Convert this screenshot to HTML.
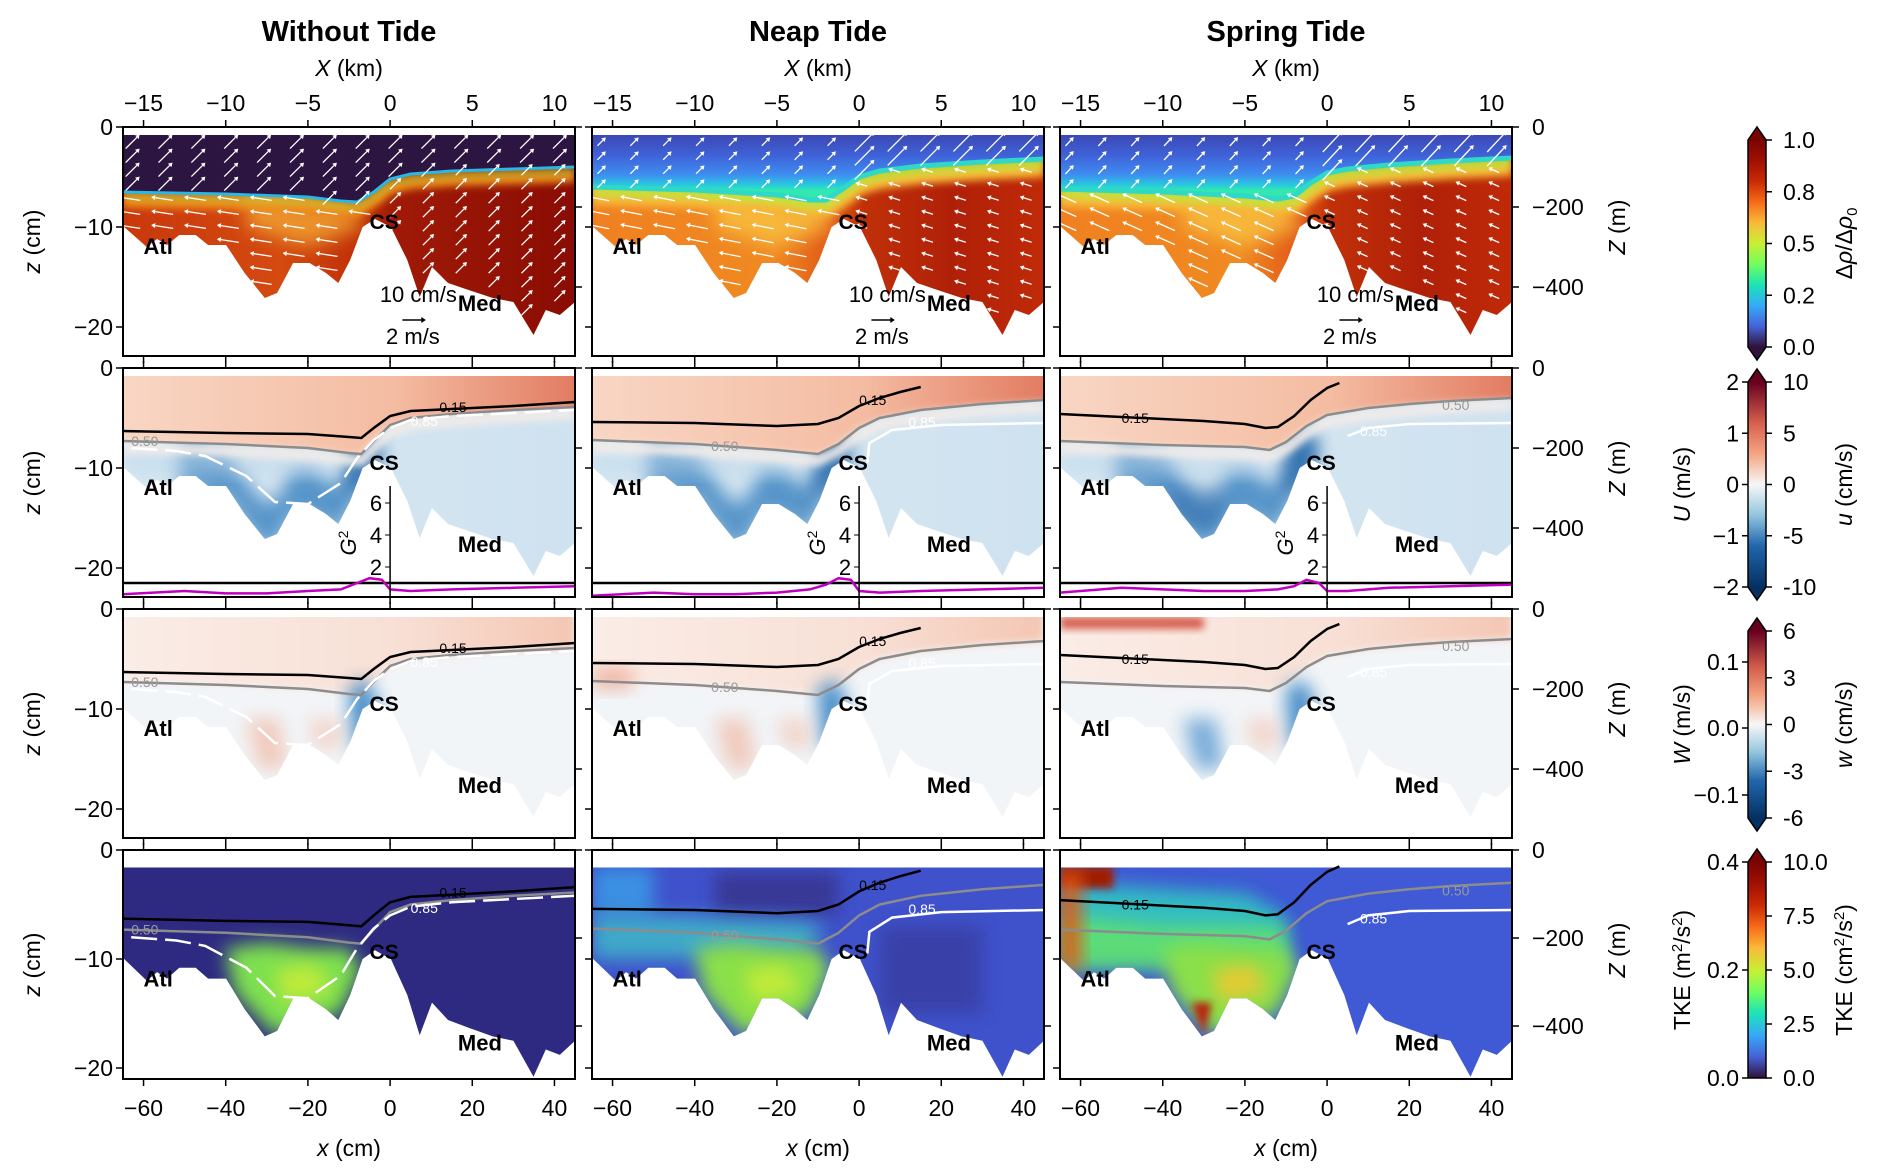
<!DOCTYPE html>
<html><head><meta charset="utf-8">
<style>
html,body{margin:0;padding:0;background:#fff;}
svg{display:block;font-family:"Liberation Sans","DejaVu Sans",sans-serif;}
</style></head>
<body>
<svg id="fig" width="1892" height="1175" viewBox="0 0 1892 1175" xmlns="http://www.w3.org/2000/svg">
<defs>
<linearGradient id="turbo" x1="0" y1="1" x2="0" y2="0">
<stop offset="0" stop-color="#30123b"/><stop offset="0.1" stop-color="#4662d7"/><stop offset="0.2" stop-color="#36aaf9"/><stop offset="0.3" stop-color="#1ae4b6"/><stop offset="0.4" stop-color="#72fe5e"/><stop offset="0.5" stop-color="#c8ef34"/><stop offset="0.6" stop-color="#faba39"/><stop offset="0.7" stop-color="#f66b19"/><stop offset="0.8" stop-color="#ca2a04"/><stop offset="0.9" stop-color="#a01001"/><stop offset="1" stop-color="#7a0403"/></linearGradient>
<linearGradient id="rdbu" x1="0" y1="1" x2="0" y2="0">
<stop offset="0" stop-color="#053061"/><stop offset="0.2" stop-color="#2166ac"/><stop offset="0.35" stop-color="#92c5de"/><stop offset="0.5" stop-color="#f7f7f7"/><stop offset="0.65" stop-color="#f4a582"/><stop offset="0.8" stop-color="#d6604d"/><stop offset="1" stop-color="#67001f"/></linearGradient>
<filter id="blur" x="-50%" y="-50%" width="200%" height="200%"><feGaussianBlur stdDeviation="9"/></filter>
<filter id="blur2" x="-50%" y="-50%" width="200%" height="200%"><feGaussianBlur stdDeviation="4"/></filter>
</defs>
</svg>
<script>
// ---------- data ----------
const columns = ["Without Tide", "Neap Tide", "Spring Tide"];
const bathX = [-65,-59.2,-56.7,-54.3,-51.3,-47.3,-44.3,-39.9,-35.4,-30.5,-27.5,-23.6,-19.6,-15.6,-12.6,-9.7,-6.7,-3.7,0.2,4.2,7.2,10.2,14.1,19.1,25,30,34.9,37.9,41.3,45];
const bathZ = [-9.9,-12,-11.2,-11.8,-10.8,-10.8,-11.8,-11.8,-14.6,-17.1,-16.6,-13.6,-13.6,-14.6,-15.6,-13.3,-10,-9.2,-10,-13.3,-17,-14,-15.6,-16.3,-17.1,-17.5,-20.8,-18.3,-18.8,-17.5];
const ifaceX = [-65,-40,-20,-12,-8,-4,0,5,15,30,45];
const ifaceZ = [
 [-6.5,-6.7,-7.0,-7.4,-7.5,-6.5,-5.2,-4.7,-4.4,-4.2,-4.0],
 [-6.0,-6.3,-6.8,-7.3,-7.3,-6.2,-5.0,-4.4,-3.9,-3.5,-3.2],
 [-6.2,-6.5,-6.9,-7.2,-6.9,-5.6,-4.6,-4.2,-3.8,-3.4,-3.1]];
const c15X = [[-65,-40,-20,-10,-7,-4,0,5,15,30,45],[-65,-40,-20,-10,-5,0,5,10,15],[-65,-50,-40,-30,-20,-15,-12,-8,-4,0,3]];
const c15Z = [[-6.3,-6.5,-6.6,-6.9,-7.0,-6.0,-4.8,-4.3,-4.1,-3.8,-3.4],[-5.4,-5.5,-5.8,-5.6,-5.0,-3.8,-3.0,-2.4,-1.9],[-4.6,-4.9,-5.1,-5.3,-5.6,-6.0,-5.9,-4.8,-3.2,-2.0,-1.5]];
const c50X = [[-65,-40,-20,-10,-7,-4,0,5,15,30,45],[-65,-40,-20,-10,-5,0,5,15,30,45],[-65,-40,-20,-14,-10,-5,0,10,20,30,45]];
const c50Z = [[-7.3,-7.6,-8.0,-8.5,-8.6,-7.3,-5.7,-5.0,-4.6,-4.2,-3.9],[-7.2,-7.6,-8.2,-8.6,-7.6,-6.0,-5.0,-4.2,-3.6,-3.2],[-7.3,-7.7,-7.9,-8.2,-7.4,-5.8,-4.7,-4.0,-3.6,-3.3,-3.0]];
const c85X = [[-63,-52,-45,-35,-28,-20,-12,-8,-4,0,5,15,30,45],[2,2.5,8,20,45],[5,10,20,45]];
const c85Z = [[-8.0,-8.3,-8.8,-10.8,-13.4,-13.6,-11.5,-9.0,-7.2,-6.0,-5.2,-4.8,-4.5,-4.2],[-9.5,-7.5,-6.2,-5.7,-5.5],[-6.8,-6.0,-5.6,-5.5]];
const g2X = [-65,-50,-40,-30,-20,-12,-8,-5,-2,0,5,15,30,45];
const g2Vals = [[0.3,0.5,0.35,0.35,0.5,0.6,1.0,1.3,1.2,0.6,0.5,0.6,0.7,0.8],[0.2,0.4,0.3,0.3,0.4,0.6,0.9,1.3,1.2,0.5,0.4,0.5,0.6,0.7],[0.4,0.7,0.6,0.5,0.5,0.6,0.8,1.2,1.0,0.5,0.5,0.7,0.8,0.9]];
const kmTicks = [-15,-10,-5,0,5,10];
const cmTicks = [-60,-40,-20,0,20,40];
const zTicks = [0,-10,-20];
const ZmTicks = [0,-200,-400];
const cb1Ticks = ["0.0","0.2","0.5","0.8","1.0"];
const cb2L = ["−2","−1","0","1","2"], cb2R = ["-10","-5","0","5","10"];
const cb3L = ["−0.1","0.0","0.1"], cb3R = ["-6","-3","0","3","6"];
const cb4L = ["0.0","0.2","0.4"], cb4R = ["0.0","2.5","5.0","7.5","10.0"];

// ---------- layout ----------
const svg = document.getElementById('fig');
const NS = 'http://www.w3.org/2000/svg';
const colX = [123, 592, 1060], PW = 452, PH = 229;
const rowY = [127, 368, 609, 850];
const zS = [10, 10, 10, 10.9];
const mPerPx = [200/80, 200/80, 200/80, 200/88];
const lab15 = [[12,-3.9],[0,-3.2],[-50,-5.0]];
const lab50 = [[-63,-7.3],[-36,-7.8],[28,-3.7]];
const lab85 = [[5,-5.3],[12,-5.4],[8,-6.3]];
function el(tag, attrs, parent, text){
  const e = document.createElementNS(NS, tag);
  for (const k in attrs) e.setAttribute(k, attrs[k]);
  if (text !== undefined) e.textContent = text;
  (parent || svg).appendChild(e); return e;
}
function X(c, cm){ return colX[c] + (cm + 65) * PW / 110; }
function Z(r, z){ return rowY[r] - z * zS[r]; }
function pts(c, r, xs, zs){ return xs.map((x,i)=>X(c,x).toFixed(1)+','+Z(r,zs[i]).toFixed(1)).join(' '); }
function bathAt(x){ for(let i=0;i<bathX.length-1;i++){ if(x>=bathX[i]&&x<=bathX[i+1]){const t=(x-bathX[i])/(bathX[i+1]-bathX[i]);return bathZ[i]+t*(bathZ[i+1]-bathZ[i]);}} return -20; }
function ifAt(c,x){ for(let i=0;i<ifaceX.length-1;i++){ if(x>=ifaceX[i]&&x<=ifaceX[i+1]){const t=(x-ifaceX[i])/(ifaceX[i+1]-ifaceX[i]);return ifaceZ[c][i]+t*(ifaceZ[c][i+1]-ifaceZ[c][i]);}} return -5; }

let gid = 0;
function lgrad(stops, x1,y1,x2,y2){
  const d = svg.querySelector('defs'); const id='g'+(gid++);
  const g = el('linearGradient',{id:id,x1:x1,y1:y1,x2:x2,y2:y2,gradientUnits:'userSpaceOnUse'},d);
  stops.forEach(s=>el('stop',{offset:s[0],'stop-color':s[1]},g));
  return 'url(#'+id+')';
}
function blob(c,r,xs,zs,fill,parent,f,op){
  el('polygon',{points:pts(c,r,xs,zs),fill:fill,filter:'url(#'+(f||'blur')+')',opacity:op===undefined?1:op},parent);
}
function bathBand(c,r,xa,xb,off){
  const xs = bathX.filter(x=>x>xa&&x<xb);
  const top = xs.map(x=>bathAt(x)+off);
  return {xs: xs.concat(xs.slice().reverse()), zs: top.concat(xs.slice().reverse().map(x=>bathAt(x)-1))};
}

const surf = [-0.8,-0.8,-0.8,-1.6];
function drawPanel(c, r){
  const g = el('g',{});
  
  
  const cid = 'clip'+c+r;
  const cp = el('clipPath',{id:cid}, svg.querySelector('defs'));
  const water = X(c,-65)+','+Z(r,surf[r])+' '+X(c,45)+','+Z(r,surf[r])+' '+pts(c,r,bathX.slice().reverse(),bathZ.slice().reverse());
  el('polygon',{points:water},cp);
  const inner = el('g',{'clip-path':'url(#'+cid+')'},g);
  const x0=X(c,-65), x1=X(c,45), y0=rowY[r], y1=rowY[r]+PH;
  const upperPoly = X(c,-65)+','+Z(r,surf[r])+' '+X(c,45)+','+Z(r,surf[r])+' '+pts(c,r,ifaceX.slice().reverse(),ifaceZ[c].slice().reverse());
  if(r===0){
    const lower = c===0 ? lgrad([[0,'#c8380c'],[0.35,'#d44a10'],[0.52,'#c03008'],[0.6,'#a01a06'],[1,'#8a0c04']],x0,0,x1,0)
                        : lgrad([[0,'#f08020'],[0.4,'#f08a22'],[0.53,'#e05818'],[0.6,'#c03008'],[0.8,'#b02008'],[1,'#c02a08']],x0,0,x1,0);
    el('rect',{x:x0,y:y0,width:PW,height:PH,fill:lower},inner);
    blob(c,r,[-35,-10,-6,-20,-35],[-7,-8,-10,-12,-10],c===0?'#f0a030':'#f8c040',inner,'blur',0.85);
    el('polyline',{points:pts(c,r,ifaceX,ifaceZ[c].map(z=>z-1.0)),fill:'none',stroke:c===0?'#f0901c':'#f8b838','stroke-width':c===0?10:16,filter:'url(#blur2)'},inner);
    el('polyline',{points:pts(c,r,ifaceX,ifaceZ[c].map(z=>z-0.4)),fill:'none',stroke:'#b8f040','stroke-width':c===0?4:8,filter:'url(#blur2)'},inner);
    const upper = c===0 ? '#2d1541' : lgrad([[0,'#3b3ea6'],[0.45,'#3f62d8'],[0.75,'#3f8cf0'],[0.92,'#28c8e0'],[1,'#30e8b0']],0,Z(r,0),0,Z(r,-6.3));
    el('polygon',{points:upperPoly,fill:upper},inner);
    el('polyline',{points:pts(c,r,ifaceX,ifaceZ[c]),fill:'none',stroke:c===0?'#28b8e8':'#30d8c8','stroke-width':c===0?3:5},inner);
    const upV = [[0.7,0.7],[0.7,0.7],[0.7,0.75]][c], atlV=[[-1,0.15],[-1,0.2],[-0.9,0.4]][c], medV=[[0.6,0.6],[-1,0.3],[-0.9,0.4]][c];
    for(let x=-63;x<=44;x+=8){ for(let z=-1.6;z>-21;z-=1.4){
      if(z < bathAt(x)+0.5) continue;
      const up = z>ifAt(c,x);
      const v = up ? upV : (x<-4?atlV:medV);
      let len = up ? (c===0?8:(x<-4?4:12)) : (x<-4?9:(c===0?7:4));
      const ax=X(c,x), az=Z(r,z);
      const ex=ax+v[0]*len, ez=az-v[1]*len;
      const line = el('line',{x1:ax-v[0]*len,y1:az+v[1]*len,x2:ex,y2:ez,stroke:'#fff','stroke-width':1.3},inner);
      
      
      const n=Math.hypot(v[0],v[1]), ux=v[0]/n, uz=-v[1]/n;
      el('polygon',{points:(ex+ux*4)+','+(ez+uz*4)+' '+(ex-uz*2.5)+','+(ez+ux*2.5)+' '+(ex+uz*2.5)+','+(ez-ux*2.5),fill:'#fff'},inner);
    }}
  } else if(r===1){
    el('rect',{x:x0,y:y0,width:PW,height:PH,fill:lgrad([[0,'#d8e8f2'],[1,'#cfe2ef']],x0,0,x1,0)},inner);
    const bb = bathBand(c,r,-52,-2,3.5);
    blob(c,r,bb.xs,bb.zs,'#3f86c2',inner,'blur',0.85);
    blob(c,r,[-10,-5,-2,-6,-11],[-8,-6.5,-8,-12,-13],'#2a6aaa',inner,'blur',0.9);
    blob(c,r,[-65,-45,-20,-8,-20,-45,-65],[-8.5,-8.5,-9,-9.5,-10.5,-10.5,-10.5],'#bcd6ea',inner,'blur',0.6);
    el('polygon',{points:pts(c,r,c50X[c].concat([45,-65]),c50Z[c].concat([0,0])),fill:lgrad([[0,'#f8d6c4'],[0.6,'#f4bca2'],[1,'#e27c62']],x0,0,x1,0)},inner);
    el('polyline',{points:pts(c,r,c50X[c],c50Z[c].map(z=>z-0.7)),fill:'none',stroke:'#f3ece8','stroke-width':10,filter:'url(#blur2)'},inner);
    if(c===2) blob(c,r,[-40,-25,-25,-40],[-12,-12,-16,-16],'#2a66a8',inner,'blur',0.5);
  } else if(r===2){
    el('rect',{x:x0,y:y0,width:PW,height:PH,fill:'#f2f5f8'},inner);
    el('polygon',{points:pts(c,r,c50X[c].concat([45,-65]),c50Z[c].concat([0,0])),fill:lgrad([[0,'#faece6'],[0.6,'#f8e0d6'],[1,'#f4c6b2']],x0,0,x1,0),filter:'url(#blur2)'},inner);
    if(c===2) blob(c,r,[-65,-30,-30,-65],[-0.8,-0.8,-2,-2],'#d0503e',inner,'blur2',0.9);
    blob(c,r,[-10,-6,-3,-5,-9],[-8,-7,-9,-14,-14],'#3a86c4',inner,'blur',0.95);
    blob(c,r,[-35,-27,-25,-32],[-11,-11,-16,-16],c===2?'#4a90cc':'#f0b8a4',inner,'blur',0.7);
    blob(c,r,[-20,-12,-12,-18],[-11,-11,-14,-14],'#f2c0ae',inner,'blur',0.6);
    if(c===1) blob(c,r,[-65,-55,-55,-65],[-6,-6,-8,-8],'#e88a70',inner,'blur',0.6);
  } else {
    const base = ['#2e2a82','#3f52cc','#3f5ad4'][c];
    el('rect',{x:x0,y:y0,width:PW,height:PH,fill:base},inner);
    if(c===1){
      blob(c,r,[-35,-5,-5,-35],[-2,-2,-6,-6],'#383490',inner,'blur',0.9);
      blob(c,r,[5,30,30,5],[-7,-7,-15,-15],'#383a9a',inner,'blur',0.7);
      blob(c,r,[-65,-50,-50,-65],[-1.5,-1.5,-6,-6],'#3aa0e8',inner,'blur',0.8);
      blob(c,r,[-65,-45,-15,-8,-15,-45,-65],[-6,-6,-6.5,-7,-10,-10,-10],'#40c0c8',inner,'blur',0.8);
    }
    if(c===2){
      blob(c,r,[-65,-20,-10,-10,-65],[-3,-4,-6,-10,-10],'#30c8c0',inner,'blur',0.9);
      blob(c,r,[-65,-40,-10,-10,-40,-65],[-6,-7,-7,-11,-11,-11],'#60e070',inner,'blur',0.9);
      blob(c,r,[-65,-52,-52,-65],[-1.5,-1.5,-3.5,-3.5],'#a01a04',inner,'blur2',1);
      blob(c,r,[-65,-60,-60,-65],[-2,-2,-11,-11],'#e05a14',inner,'blur',1);
    }
    blob(c,r,[-40,-30,-20,-10,-7,-12,-28,-38],[-9,-8.5,-9,-9,-11,-15,-17,-13],c===0?'#7ee050':'#8ae048',inner,'blur',1);
    blob(c,r,[-28,-18,-14,-26],[-11,-10.5,-13,-14],c===2?'#f0c830':'#c8ec38',inner,'blur',0.9);
    if(c===2) blob(c,r,[-33,-28,-30],[-14,-14,-17],'#b82208',inner,'blur2',1);
  }
  if(r>0){
    el('polyline',{points:pts(c,r,c50X[c],c50Z[c]),fill:'none',stroke:'#8c8c8c','stroke-width':2.5},g);
    el('polyline',{points:pts(c,r,c15X[c],c15Z[c]),fill:'none',stroke:'#000','stroke-width':2.5},g);
    el('polyline',{points:pts(c,r,c85X[c],c85Z[c]),fill:'none',stroke:'#fff','stroke-width':2.5,'stroke-dasharray':c===0?'26,8':'none'},g);
    el('text',{x:X(c,lab15[c][0]),y:Z(r,lab15[c][1])+5,'font-size':14,fill:'#000'},g,'0.15');
    el('text',{x:X(c,lab50[c][0]),y:Z(r,lab50[c][1])+5,'font-size':14,fill:'#999'},g,'0.50');
    el('text',{x:X(c,lab85[c][0]),y:Z(r,lab85[c][1])+5,'font-size':14,fill:'#fff'},g,'0.85');
  }
  const ta = el('text',{x:X(c,-60),y:Z(r,r===3?-12.5:-12.7),'font-size':22,'font-weight':'bold'},g,'Atl');
   
  el('text',{x:X(c,-5),y:Z(r,r===3?-10:-10.2),'font-size':21,'font-weight':'bold'},g,'CS');
  el('text',{x:X(c,16.5),y:Z(r,-18.4),'font-size':22,'font-weight':'bold'},g,'Med');
  if(r===0){
    el('text',{x:X(c,-2.5),y:Z(r,-17.5),'font-size':22},g,'10 cm/s');
    el('line',{x1:X(c,3),y1:Z(r,-19.3),x2:X(c,8),y2:Z(r,-19.3),stroke:'#000','stroke-width':1.5},g);
    el('polygon',{points:X(c,8.7)+','+Z(r,-19.3)+' '+X(c,7.6)+','+(Z(r,-19.3)-3)+' '+X(c,7.6)+','+(Z(r,-19.3)+3)},g);
    el('text',{x:X(c,-1),y:Z(r,-21.7),'font-size':22},g,'2 m/s');
  }
  if(r===1){
    const gz = v => -23.1 + v*1.6;
    el('line',{x1:X(c,-65),x2:X(c,45),y1:Z(r,gz(1)),y2:Z(r,gz(1)),stroke:'#000','stroke-width':2.5},g);
    el('polyline',{points:pts(c,r,g2X,g2Vals[c].map(gz)),fill:'none',stroke:'#c000c0','stroke-width':2.5},g);
    el('line',{x1:X(c,0),x2:X(c,0),y1:Z(r,-11.8),y2:rowY[r]+PH,stroke:'#000','stroke-width':1.5},g);
    [2,4,6].forEach(v=>{ el('line',{x1:X(c,0)-5,x2:X(c,0),y1:Z(r,gz(v)),y2:Z(r,gz(v)),stroke:'#000'},g);
      el('text',{x:X(c,0)-8,y:Z(r,gz(v))+8,'font-size':22,'text-anchor':'end'},g,String(v)); });
    const t = el('text',{transform:'translate('+(X(c,0)-34)+','+Z(r,gz(3.5))+') rotate(-90)','font-size':22,'font-style':'italic','text-anchor':'middle'},g,'G');
    el('tspan',{'font-size':14,dy:-8,'font-style':'normal'},t,'2');
  }
  el('rect',{x:x0,y:y0,width:PW,height:PH,fill:'none',stroke:'#000','stroke-width':2},g);
  cmTicks.forEach(v=>{ el('line',{x1:X(c,v),x2:X(c,v),y1:y1,y2:y1+7,stroke:'#000','stroke-width':1.5},g);
                       if(r>0) el('line',{x1:X(c,v),x2:X(c,v),y1:y0,y2:y0-7,stroke:'#000','stroke-width':1.5},g); });
  if(r===0) kmTicks.forEach(v=>{ el('line',{x1:X(c,v*4),x2:X(c,v*4),y1:y0,y2:y0-7,stroke:'#000','stroke-width':1.5},g);
      el('text',{x:X(c,v*4),y:y0-16,'font-size':23,'text-anchor':'middle'},g,v<0?'−'+(-v):String(v)); });
  if(r===3) cmTicks.forEach(v=>el('text',{x:X(c,v),y:y1+37,'font-size':23,'text-anchor':'middle'},g,v<0?'−'+(-v):String(v)));
  if(c===0) zTicks.forEach(v=>{ el('line',{x1:x0-7,x2:x0,y1:Z(r,v),y2:Z(r,v),stroke:'#000','stroke-width':1.5},g);
      el('text',{x:x0-10,y:Z(r,v)+8,'font-size':23,'text-anchor':'end'},g,v<0?'−'+(-v):'0'); });
  else zTicks.forEach(v=>el('line',{x1:x0-7,x2:x0,y1:Z(r,v),y2:Z(r,v),stroke:'#000','stroke-width':1.5},g));
  if(c===2) ZmTicks.forEach(v=>{ const yy=rowY[r]-v/mPerPx[r]; el('line',{x1:x1,x2:x1+7,y1:yy,y2:yy,stroke:'#000','stroke-width':1.5},g);
      el('text',{x:x1+20,y:yy+8,'font-size':23},g,v<0?'−'+(-v):'0'); });
  else ZmTicks.forEach(v=>{ const yy=rowY[r]-v/mPerPx[r]; el('line',{x1:x1,x2:x1+7,y1:yy,y2:yy,stroke:'#000','stroke-width':1.5},g); });
}
for(let c=0;c<3;c++) for(let r=0;r<4;r++) drawPanel(c,r);

const centers = [349, 818, 1286];
columns.forEach((t,c)=>{
  const tt = el('text',{x:centers[c],y:41,'font-size':29,'font-weight':'bold','text-anchor':'middle'},null,t);
   
  const xk = el('text',{x:centers[c],y:76,'font-size':23,'text-anchor':'middle'});
  el('tspan',{'font-style':'italic'},xk,'X'); el('tspan',{},xk,' (km)');
  const xc = el('text',{x:centers[c],y:1156,'font-size':23,'text-anchor':'middle'});
   
  el('tspan',{'font-style':'italic'},xc,'x'); el('tspan',{},xc,' (cm)');
});
for(let r=0;r<4;r++){
  const cy = rowY[r]+PH/2;
  const zl = el('text',{transform:'translate(40,'+cy+') rotate(-90)','font-size':23,'text-anchor':'middle'});
   
  el('tspan',{'font-style':'italic'},zl,'z'); el('tspan',{},zl,' (cm)');
  const zm = el('text',{transform:'translate(1625,'+(rowY[r]+100)+') rotate(-90)','font-size':23,'text-anchor':'middle'});
  el('tspan',{'font-style':'italic'},zm,'Z'); el('tspan',{},zm,' (m)');
}
function cbar(y0,y1,grad,top,bot,left,right,lLabel,rLabel,name){
  const g = el('g',{});
  
  
  const xL=1748,xR=1766,xm=1757;
  el('rect',{x:xL,y:y0,width:18,height:y1-y0,fill:'url(#'+grad+')'},g);
  const topC = grad==='turbo'?'#7a0403':'#67001f', botC = grad==='turbo'?'#30123b':'#053061';
  let outline = 'M'+xL+','+y0+' ';
  if(top){ el('polygon',{points:xL+','+y0+' '+xm+','+(y0-13)+' '+xR+','+y0,fill:topC},g); outline+='L'+xm+','+(y0-13)+' L'+xR+','+y0+' '; } else outline+='L'+xR+','+y0+' ';
  if(bot){ el('polygon',{points:xL+','+y1+' '+xm+','+(y1+13)+' '+xR+','+y1,fill:botC},g); outline+='L'+xR+','+y1+' L'+xm+','+(y1+13)+' L'+xL+','+y1+' Z'; } else outline+='L'+xR+','+y1+' L'+xL+','+y1+' Z';
  el('path',{d:outline,fill:'none',stroke:'#000','stroke-width':1.5},g);
  const place=(arr,side)=>arr.forEach((t,i)=>{ const yy=y1-(y1-y0)*i/(arr.length-1);
    if(side==='L'){ el('line',{x1:xL-6,x2:xL,y1:yy,y2:yy,stroke:'#000','stroke-width':1.5},g); el('text',{x:xL-9,y:yy+8,'font-size':23,'text-anchor':'end'},g,t); }
    else { el('line',{x1:xR,x2:xR+6,y1:yy,y2:yy,stroke:'#000','stroke-width':1.5},g); el('text',{x:xR+17,y:yy+8,'font-size':23},g,t); } });
  if(left) place(left,'L'); if(right) place(right,'R');
  const cy=(y0+y1)/2;
  if(lLabel) el('text',{transform:'translate(1690,'+cy+') rotate(-90)','font-size':23,'text-anchor':'middle'},g).innerHTML=lLabel;
  if(rLabel) el('text',{transform:'translate(1852,'+cy+') rotate(-90)','font-size':23,'text-anchor':'middle'},g).innerHTML=rLabel;
}
cbar(140,347,'turbo',true,true,null,cb1Ticks,null,'Δ<tspan font-style="italic">ρ</tspan>/Δ<tspan font-style="italic">ρ</tspan><tspan font-size="15" dy="5">0</tspan>','colorbar-density');
cbar(382,587,'rdbu',true,true,cb2L,cb2R,'<tspan font-style="italic">U</tspan> (m/s)','<tspan font-style="italic">u</tspan> (cm/s)','colorbar-u');
cbar(631,818,'rdbu',true,true,null,cb3R,'<tspan font-style="italic">W</tspan> (m/s)','<tspan font-style="italic">w</tspan> (cm/s)','colorbar-w');
(function(){ const g=svg.lastChild; const ys=[795,728,662]; cb3L.forEach((t,i)=>{ el('line',{x1:1742,x2:1748,y1:ys[i],y2:ys[i],stroke:'#000','stroke-width':1.5},g); el('text',{x:1739,y:ys[i]+8,'font-size':23,'text-anchor':'end'},g,t); }); })();
cbar(862,1078,'turbo',true,false,null,cb4R,'TKE (m<tspan font-size="15" dy="-8">2</tspan><tspan dy="8">/s</tspan><tspan font-size="15" dy="-8">2</tspan><tspan dy="8">)</tspan>','TKE (cm<tspan font-size="15" dy="-8">2</tspan><tspan dy="8">/s</tspan><tspan font-size="15" dy="-8">2</tspan><tspan dy="8">)</tspan>','colorbar-tke');
(function(){ const g=svg.lastChild; cb4L.forEach((t,i)=>{ const yy=1078-(1078-862)*i/2; el('line',{x1:1742,x2:1748,y1:yy,y2:yy,stroke:'#000','stroke-width':1.5},g); el('text',{x:1739,y:yy+8,'font-size':23,'text-anchor':'end'},g,t); }); })();
</script>
</body></html>
